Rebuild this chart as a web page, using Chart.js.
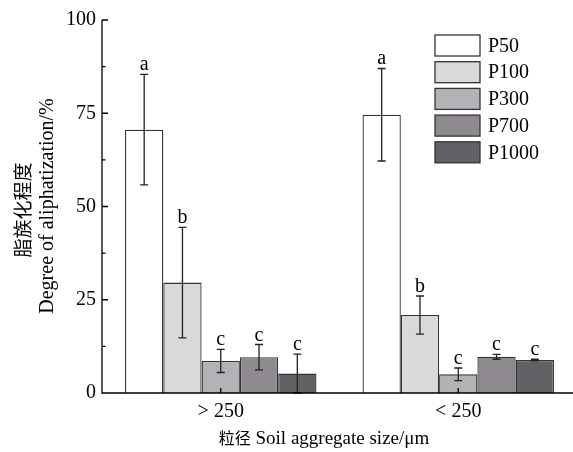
<!DOCTYPE html>
<html>
<head>
<meta charset="utf-8">
<script src="https://cdn.jsdelivr.net/npm/chart.js"></script>
<style>
  html,body{margin:0;padding:0;background:#fff;overflow:hidden;}
  #wrap{position:relative;width:577px;height:452px;}
</style>
</head>
<body>
<div id="wrap"><canvas id="chart" width="577" height="452"></canvas></div>
<script>
// data
const categories = ['> 250', '< 250'];
const seriesNames = ['P50', 'P100', 'P300', 'P700', 'P1000'];
const seriesColors = ['#ffffff', '#d9d8da', '#b3b2b7', '#8f8a8f', '#626165'];
const p50 = [70.6, 74.6];
const p100 = [29.6, 20.9];
const p300 = [8.6, 5.0];
const p700 = [9.6, 9.7];
const p1000 = [5.2, 8.85];
const p50Err = [14.8, 12.4];
const p100Err = [14.8, 5.1];
const p300Err = [3.1, 1.7];
const p700Err = [3.4, 0.65];
const p1000Err = [5.2, 0.2];
const p50Letters = ['a', 'a'];
const p100Letters = ['b', 'b'];
const p300Letters = ['c', 'c'];
const p700Letters = ['c', 'c'];
const p1000Letters = ['c', 'c'];
const yTicks = [0, 25, 50, 75, 100];

const values = [p50, p100, p300, p700, p1000];
const errors = [p50Err, p100Err, p300Err, p700Err, p1000Err];
const letters = [p50Letters, p100Letters, p300Letters, p700Letters, p1000Letters];

const SERIF = '"Liberation Serif", "Times New Roman", serif';
const CJK = '"Noto Sans CJK SC", sans-serif';

// error bars + significance letters
const errorBars = {
  id:'errorBars',
  afterDatasetsDraw(chart){
    const ctx = chart.ctx, y = chart.scales.y;
    ctx.save();
    chart.data.datasets.forEach((ds, i)=>{
      const meta = chart.getDatasetMeta(i);
      meta.data.forEach((bar, j)=>{
        const v = ds.data[j], e = errors[i][j];
        const yt = y.getPixelForValue(v + e), yb = y.getPixelForValue(Math.max(0, v - e));
        ctx.strokeStyle = '#222'; ctx.lineWidth = 1.3;
        ctx.beginPath();
        ctx.moveTo(bar.x, yt); ctx.lineTo(bar.x, yb);
        ctx.moveTo(bar.x-4, yt); ctx.lineTo(bar.x+4, yt);
        ctx.moveTo(bar.x-4, yb); ctx.lineTo(bar.x+4, yb);
        ctx.stroke();
        ctx.fillStyle = '#000'; ctx.font = '20px ' + SERIF;
        ctx.textAlign = 'center'; ctx.textBaseline = 'alphabetic';
        ctx.fillText(letters[i][j], bar.x, yt - 4);
      });
    });
    ctx.restore();
  }
};

// inward ticks, legend and axis titles
const decor = {
  id:'decor',
  afterDraw(chart){
    const ctx = chart.ctx, y = chart.scales.y, x = chart.scales.x, a = chart.chartArea;
    ctx.save();
    ctx.strokeStyle = '#000'; ctx.lineWidth = 1.3;
    ctx.beginPath();
    ctx.moveTo(a.left, a.top); ctx.lineTo(a.left, a.bottom); ctx.lineTo(a.right, a.bottom);
    for(let v=0; v<=100; v+=12.5){
      const py = y.getPixelForValue(v);
      const len = (v % 25 === 0) ? 6 : 3.5;
      ctx.moveTo(a.left, py); ctx.lineTo(a.left + len, py);
    }
    categories.forEach((c, j)=>{
      const px = x.getPixelForValue(j);
      ctx.moveTo(px, a.bottom); ctx.lineTo(px, a.bottom - 5);
    });
    ctx.stroke();

    // legend
    const lx = 435, ly = 35, bw = 45, bh = 21, pitch = 26.7;
    chart.data.datasets.forEach((ds, i)=>{
      const top = ly + i * pitch;
      ctx.fillStyle = ds.backgroundColor; ctx.fillRect(lx, top, bw, bh);
      ctx.strokeStyle = '#333'; ctx.lineWidth = 1.3; ctx.strokeRect(lx, top, bw, bh);
      ctx.fillStyle = '#000'; ctx.font = '20px ' + SERIF;
      ctx.textAlign = 'left'; ctx.textBaseline = 'middle';
      ctx.fillText(ds.label, lx + 53, top + bh/2 + 1);
    });

    // x title
    ctx.textBaseline = 'middle';
    ctx.font = '16px ' + CJK;
    const t1 = '粒径', t2 = ' Soil aggregate size/μm';
    const w1 = ctx.measureText(t1).width;
    ctx.font = '19px ' + SERIF;
    const w2 = ctx.measureText(t2).width;
    let sx = 324 - (w1 + w2)/2;
    ctx.textAlign = 'left';
    ctx.font = '16px ' + CJK; ctx.fillText(t1, sx, 438);
    ctx.font = '19px ' + SERIF; ctx.fillText(t2, sx + w1, 439);

    // y title (two lines, rotated)
    ctx.save();
    ctx.translate(23, 210); ctx.rotate(-Math.PI/2);
    ctx.textAlign = 'center'; ctx.font = '19px ' + CJK; ctx.fillText('脂族化程度', 0, 0);
    ctx.restore();
    ctx.save();
    ctx.translate(48, 206); ctx.rotate(-Math.PI/2);
    ctx.textAlign = 'center'; ctx.font = '20px ' + SERIF; ctx.fillText('Degree of aliphatization/%', 0, 0);
    ctx.restore();
    ctx.restore();
  }
};

new Chart(document.getElementById('chart'), {
  type:'bar',
  data:{
    labels:categories,
    datasets: seriesNames.map((n, i)=>({
      label:n, data:values[i], backgroundColor:seriesColors[i],
      borderColor:'#333', borderWidth:1.3,
      categoryPercentage:0.806, barPercentage:1.0
    }))
  },
  options:{
    responsive:false, animation:false,
    layout:{padding:{left:0, right:0, top:20, bottom:0}},
    plugins:{legend:{display:false}, tooltip:{enabled:false}},
    scales:{
      x:{
        grid:{display:false, drawTicks:false},
        border:{display:false},
        ticks:{color:'#000', font:{family:SERIF, size:20}, padding:7},
        afterFit(s){ s.height = 59; }
      },
      y:{
        min:0, max:100,
        afterBuildTicks(s){ s.ticks = yTicks.map(v=>({value:v})); },
        grid:{display:false, drawTicks:false},
        border:{display:false},
        ticks:{color:'#000', font:{family:SERIF, size:20}, padding:6},
        afterFit(s){ s.width = 102; }
      }
    }
  },
  plugins:[errorBars, decor]
});
</script>
</body>
</html>
